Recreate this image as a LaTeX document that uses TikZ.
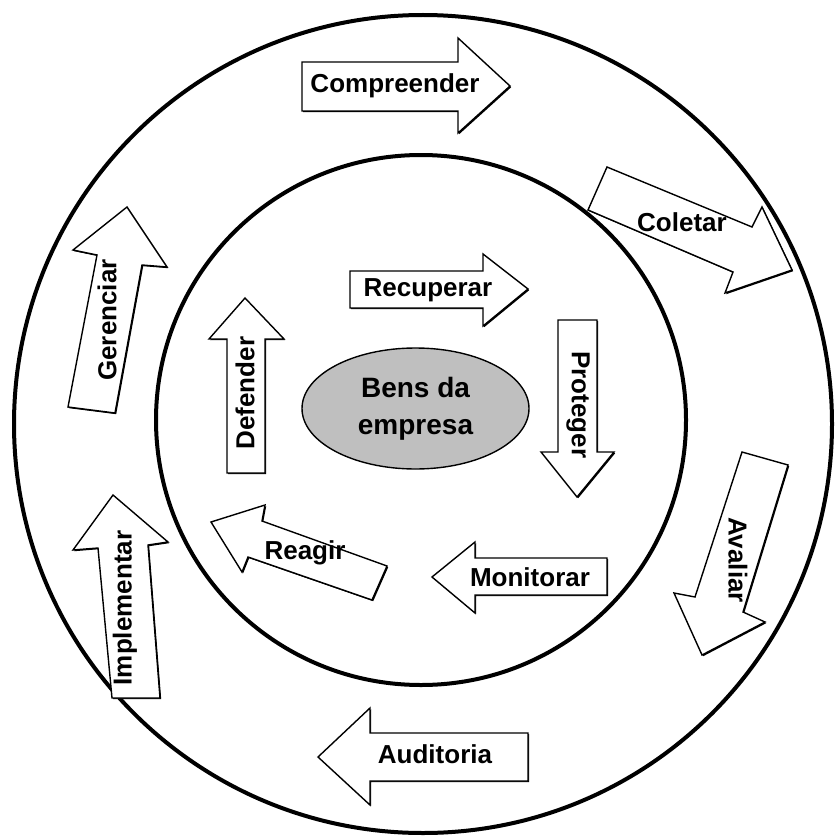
\documentclass[tikz,border=0pt]{standalone}
\usepackage{fontspec}
\setmainfont{Liberation Sans}
\usetikzlibrary{shadows}
\tikzset{
	seta/.style={draw, fill=white, line width=1.4pt, line join=miter,
		drop shadow={shadow xshift=1.2pt, shadow yshift=-1.2pt, opacity=1, fill=black}},
	rotulo/.style={font=\fontsize{26}{30}\selectfont\bfseries, inner sep=0pt},
	anel/.style={line width=4pt},
}

\begin{document}
\begin{tikzpicture}[x=1pt, y=-1pt]
			%%%%% START %%%%%
			\useasboundingbox (0,0) rectangle (836,840);
			
			% circulos
			\draw[anel] (423,424) circle [radius=409pt];
			\draw[anel] (421,420) circle [radius=265pt];
			
			% bens
			\draw[fill=black!25, line width=1.4pt] (415.5,408.5) ellipse [x radius=113.5pt, y radius=60.5pt];
			\node[rotulo, font=\fontsize{28}{37}\selectfont\bfseries, align=center] (bens) at (415.5,408.5) {Bens da\\empresa};
			
			% anel externo
			\draw[seta] (302,62) -- (458,62) -- (458,38) -- (510,86) -- (458,133) -- (458,111) -- (302,111) -- cycle;
			\node[rotulo] (compreender) at (395,86) {Compreender};
			
			\draw[seta] (607,167) -- (752,227) -- (762,207) -- (792,270) -- (725,293) -- (733,272) -- (588,210) -- cycle;
			\node[rotulo] (coletar) at (682,222) {Coletar};
			
			\draw[seta] (742,452) -- (788,465) -- (743,612) -- (765,622) -- (702,655) -- (674,593) -- (695,597) -- cycle;
			\node[rotulo, rotate=-90] (avaliar) at (738,560) {Avaliar};
			
			\draw[seta] (528,733) -- (370,733) -- (370,708) -- (318,757) -- (370,805) -- (370,781) -- (528,781) -- cycle;
			\node[rotulo] (auditoria) at (435,754) {Auditoria};
			
			\draw[seta] (160,698) -- (148,545) -- (168,542) -- (113,495) -- (73,550) -- (98,548) -- (112,698) -- cycle;
			\node[rotulo, rotate=90] (implementar) at (125,608) {Implementar};
			
			\draw[seta] (115,413) -- (142,265) -- (167,267) -- (127,207) -- (73,250) -- (97,255) -- (68,407) -- cycle;
			\node[rotulo, rotate=90] (gerenciar) at (107,320) {Gerenciar};
			
			% anel interno
			\draw[seta] (350,271) -- (483,271) -- (483,254) -- (528,289) -- (483,326) -- (483,308) -- (350,308) -- cycle;
			\node[rotulo] (recuperar) at (428,290) {Recuperar};
			
			\draw[seta] (558,320) -- (597,320) -- (597,452) -- (614,452) -- (577,497) -- (541,452) -- (558,452) -- cycle;
			\node[rotulo, rotate=-90] (proteger) at (578,405) {Proteger};
			
			\draw[seta] (607,558) -- (475,558) -- (475,542) -- (432,577) -- (475,613) -- (475,595) -- (607,595) -- cycle;
			\node[rotulo] (monitorar) at (530,577) {Monitorar};
			
			\draw[seta] (387,566) -- (262,521) -- (265,505) -- (211,522) -- (242,572) -- (248,557) -- (372,600) -- cycle;
			\node[rotulo] (reagir) at (305,553) {Reagir};
			
			\draw[seta] (227,473) -- (227,339) -- (209,339) -- (245,298) -- (284,339) -- (265,339) -- (265,473) -- cycle;
			\node[rotulo, rotate=90] (defender) at (245,393) {Defender};
			
			%%%%% END %%%%%
\end{tikzpicture}
\end{document}
